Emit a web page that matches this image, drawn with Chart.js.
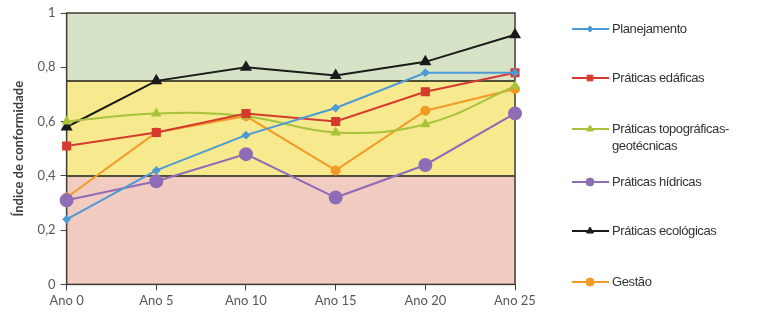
<!DOCTYPE html>
<html>
<head>
<meta charset="utf-8">
<script src="https://cdn.jsdelivr.net/npm/chart.js@4/dist/chart.umd.min.js"></script>
<style>
  body { margin: 0; background: #fff; }
  #wrap { position: relative; width: 770px; height: 324px; }
  #legend { position: absolute; left: 572px; top: 0; font-family: "Liberation Sans", Arial, sans-serif; font-size: 13px; color: #333; letter-spacing: -0.4px; }
  .item { position: absolute; left: 0; white-space: nowrap; }
  .item canvas { position: absolute; left: 0; top: 0; }
  .item span { position: absolute; left: 40px; top: 0; line-height: 17px; }
</style>
</head>
<body>
<div id="wrap">
  <canvas id="chart" width="770" height="324"></canvas>
  <div id="legend"></div>
</div>
<script>
const categories = ['Ano 0', 'Ano 5', 'Ano 10', 'Ano 15', 'Ano 20', 'Ano 25'];
const planejamento = [0.24, 0.42, 0.55, 0.65, 0.78, 0.78];
const edaficas = [0.51, 0.56, 0.63, 0.60, 0.71, 0.78];
const topograficas = [0.60, 0.63, 0.62, 0.56, 0.59, 0.73];
const hidricas = [0.31, 0.38, 0.48, 0.32, 0.44, 0.63];
const ecologicas = [0.58, 0.75, 0.80, 0.77, 0.82, 0.92];
const gestao = [0.32, 0.56, 0.62, 0.42, 0.64, 0.72];
const yTicks = [0, 0.2, 0.4, 0.6, 0.8, 1];
// faixas de conformidade
const bands = [
    { from: 0, to: 0.4, color: '#f2cbc1' },
    { from: 0.4, to: 0.75, color: '#f6e98e' },
    { from: 0.75, to: 1, color: '#d7e3c6' }
];
const bandLines = [0.4, 0.75];

const series = [
    { label: 'Planejamento', data: planejamento, color: '#4c9ad6', style: 'rectRot', r: 3, tension: 0 },
    { label: 'Práticas edáficas', data: edaficas, color: '#d63a2f', style: 'rect', r: 5, tension: 0 },
    { label: ['Práticas topográficas-', 'geotécnicas'], data: topograficas, color: '#a9c23c', style: 'triangle', r: 4, tension: 0.4 },
    { label: 'Práticas hídricas', data: hidricas, color: '#8f6db6', style: 'circle', r: 6, tension: 0 },
    { label: 'Práticas ecológicas', data: ecologicas, color: '#1b1b1b', style: 'triangle', r: 5, tension: 0 },
    { label: 'Gestão', data: gestao, color: '#f39a26', style: 'circle', r: 4, tension: 0 }
];
const legendTops = [20, 69, 120, 173, 222, 273];

const bandsPlugin = {
    id: 'bands',
    beforeDatasetsDraw(chart) {
        const { ctx, chartArea: a, scales: { y } } = chart;
        ctx.save();
        bands.forEach(b => {
            const y1 = y.getPixelForValue(b.to), y2 = y.getPixelForValue(b.from);
            ctx.fillStyle = b.color;
            ctx.fillRect(a.left, y1, a.right - a.left, y2 - y1);
        });
        ctx.strokeStyle = '#4f4f38';
        ctx.lineWidth = 2;
        bandLines.forEach(v => {
            const py = Math.round(y.getPixelForValue(v));
            ctx.beginPath(); ctx.moveTo(a.left, py); ctx.lineTo(a.right, py); ctx.stroke();
        });
        ctx.strokeStyle = '#3c3c30';
        ctx.lineWidth = 1.5;
        ctx.strokeRect(a.left, a.top, a.right - a.left, a.bottom - a.top);
        ctx.restore();
    }
};

new Chart(document.getElementById('chart'), {
    type: 'line',
    data: {
        labels: categories,
        datasets: series.map(s => ({
            label: s.label,
            data: s.data,
            borderColor: s.color,
            backgroundColor: s.color,
            pointStyle: s.style,
            pointRadius: s.r,
            borderWidth: 2,
            tension: s.tension,
            fill: false
        }))
    },
    options: {
        responsive: false,
        animation: false,
        layout: { padding: { top: 13, right: 255, bottom: 12, left: 5 } },
        plugins: { legend: { display: false }, tooltip: { enabled: false } },
        scales: {
            x: {
                offset: false,
                grid: { display: true, drawOnChartArea: false, tickLength: 6, color: '#444' },
                border: { display: false },
                ticks: { color: '#595959', font: { family: 'Lato', size: 13 }, padding: 3, maxRotation: 0 }
            },
            y: {
                min: 0, max: 1,
                afterBuildTicks: axis => { axis.ticks = yTicks.map(v => ({ value: v })); },
                grid: { display: true, drawOnChartArea: false, tickLength: 6, color: '#444' },
                border: { display: false },
                ticks: { color: '#595959', font: { family: 'Lato', size: 13 }, padding: 5,
                    callback: v => String(v).replace('.', ',') },
                title: { display: true, text: 'Índice de conformidade', color: '#404040',
                    font: { family: 'Lato', size: 13, weight: 'bold' }, padding: 6 }
            }
        }
    },
    plugins: [bandsPlugin]
});

// legenda à direita
const legend = document.getElementById('legend');
series.forEach((s, i) => {
    const div = document.createElement('div');
    div.className = 'item';
    div.style.top = legendTops[i] + 'px';
    const c = document.createElement('canvas');
    c.width = 40; c.height = 18;
    const ctx = c.getContext('2d');
    ctx.strokeStyle = s.color; ctx.lineWidth = 2;
    ctx.beginPath(); ctx.moveTo(0, 9); ctx.lineTo(37, 9); ctx.stroke();
    ctx.fillStyle = s.color; ctx.strokeStyle = s.color; ctx.lineWidth = 1;
    Chart.helpers.drawPoint(ctx, { pointStyle: s.style, radius: Math.min(s.r, 4), rotation: 0, borderWidth: 1 }, 18, 9);
    div.appendChild(c);
    const span = document.createElement('span');
    span.innerHTML = Array.isArray(s.label) ? s.label.join('<br>') : s.label;
    div.appendChild(span);
    legend.appendChild(div);
});
</script>
</body>
</html>
